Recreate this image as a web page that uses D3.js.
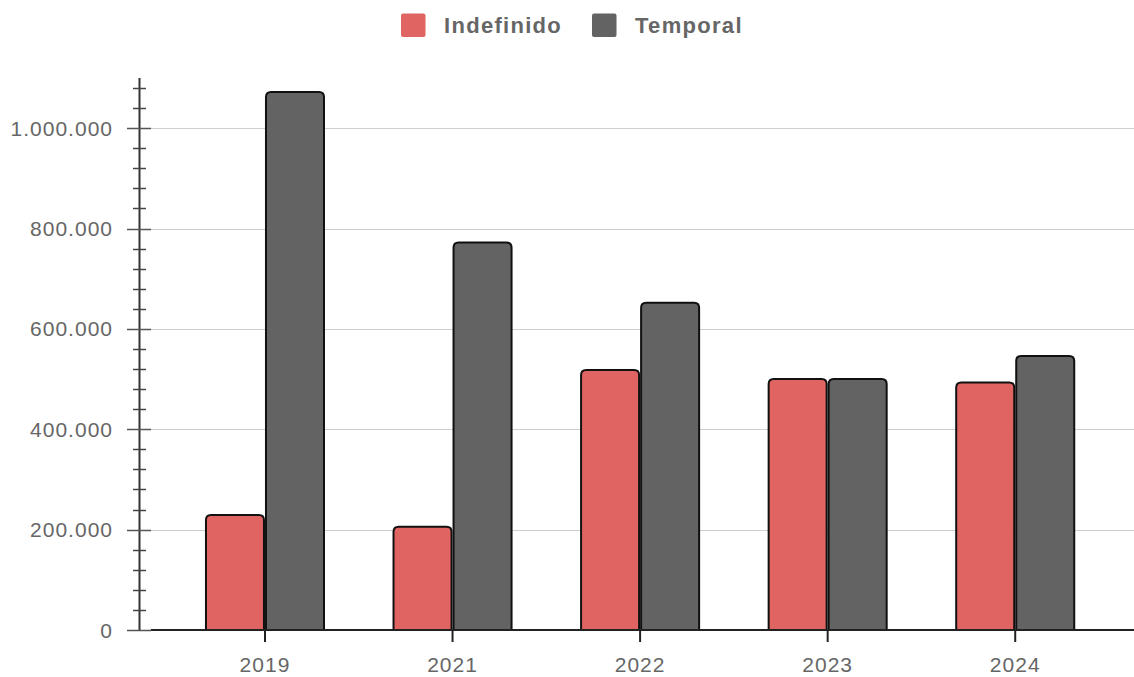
<!DOCTYPE html>
<html>
<head>
<meta charset="utf-8">
<script src="https://cdn.jsdelivr.net/npm/d3@7"></script>
<style>
  html, body { margin: 0; padding: 0; background: #fff; }
  svg { display: block; }
  text { font-family: "Liberation Sans", Arial, sans-serif; }
</style>
</head>
<body>
<svg id="chart" width="1134" height="677"></svg>
<script>
const categories = ["2019", "2021", "2022", "2023", "2024"];
const seriesNames = ["Indefinido", "Temporal"];
const indefinido = [229000, 206000, 518000, 500000, 493000];
const temporal = [1072000, 772000, 652000, 500000, 546000];
const seriesColors = ["#e06462", "#636363"];
const majorTicks = [0, 200000, 400000, 600000, 800000, 1000000];

const W = 1134, H = 677;
const svg = d3.select("#chart");

const loc = d3.formatLocale({decimal: ",", thousands: ".", grouping: [3], currency: ["", "€"]});
const fmt = loc.format(",");

const y = d3.scaleLinear().domain([0, 1100000]).range([630, 78]);
const x = d3.scaleBand().domain(categories).range([171.2, 1109]).paddingInner(0.36).paddingOuter(0.18);
const xs = d3.scaleBand().domain(seriesNames).range([0, x.bandwidth()]).padding(0);

const textColor = "#666";

// gridlines
svg.append("g").selectAll("line").data(majorTicks.filter(d => d > 0)).join("line")
  .attr("x1", 151).attr("x2", W)
  .attr("y1", d => Math.round(y(d)) + 0.5).attr("y2", d => Math.round(y(d)) + 0.5)
  .attr("stroke", "#cfcfcf").attr("stroke-width", 1);

// y axis line
svg.append("line").attr("x1", 139.5).attr("x2", 139.5).attr("y1", y(1100000)).attr("y2", 630)
  .attr("stroke", "#333").attr("stroke-width", 2);

// minor ticks
const minor = d3.range(0, 1100001, 40000).filter(d => d % 200000 !== 0);
svg.append("g").selectAll("line").data(minor).join("line")
  .attr("x1", 133).attr("x2", 146)
  .attr("y1", d => Math.round(y(d)) + 0.5).attr("y2", d => Math.round(y(d)) + 0.5)
  .attr("stroke", "#444").attr("stroke-width", 1.5);

// major ticks
svg.append("g").selectAll("line").data(majorTicks).join("line")
  .attr("x1", 127).attr("x2", 151)
  .attr("y1", d => Math.round(y(d)) + 0.5).attr("y2", d => Math.round(y(d)) + 0.5)
  .attr("stroke", "#555").attr("stroke-width", 1.5);

// y labels
svg.append("g").selectAll("text").data(majorTicks).join("text")
  .attr("x", 113).attr("y", d => y(d) + 7.5)
  .attr("text-anchor", "end")
  .attr("font-size", 21).attr("letter-spacing", 1)
  .attr("fill", textColor)
  .text(d => fmt(d));

// bars
function topRounded(x0, y0, w, h, r) {
  r = Math.min(r, h, w / 2);
  return `M${x0},${y0 + h}V${y0 + r}Q${x0},${y0} ${x0 + r},${y0}H${x0 + w - r}Q${x0 + w},${y0} ${x0 + w},${y0 + r}V${y0 + h}Z`;
}
const seriesData = [indefinido, temporal];
seriesData.forEach((vals, si) => {
  svg.append("g").selectAll("path").data(vals).join("path")
    .attr("d", (v, i) => {
      const bx = x(categories[i]) + xs(seriesNames[si]) + 1;
      const bw = xs.bandwidth() - 2;
      const top = y(v);
      return topRounded(bx, top, bw, 630 - top, 5);
    })
    .attr("fill", seriesColors[si])
    .attr("stroke", "#111").attr("stroke-width", 2);
});

// x axis line
svg.append("line").attr("x1", 151).attr("x2", W).attr("y1", 630).attr("y2", 630)
  .attr("stroke", "#222").attr("stroke-width", 2);

// x ticks
svg.append("g").selectAll("line").data(categories).join("line")
  .attr("x1", d => x(d) + x.bandwidth() / 2).attr("x2", d => x(d) + x.bandwidth() / 2)
  .attr("y1", 630).attr("y2", 642)
  .attr("stroke", "#222").attr("stroke-width", 2);

// x labels
svg.append("g").selectAll("text").data(categories).join("text")
  .attr("x", d => x(d) + x.bandwidth() / 2).attr("y", 672)
  .attr("text-anchor", "middle")
  .attr("font-size", 21).attr("letter-spacing", 1)
  .attr("fill", textColor)
  .text(d => d);

// legend
const legendX = [401, 592];
const legend = svg.append("g");
seriesNames.forEach((name, i) => {
  legend.append("rect").attr("x", legendX[i]).attr("y", 13.5).attr("width", 24.5).attr("height", 23.5)
    .attr("rx", 2).attr("fill", seriesColors[i]);
  legend.append("text").attr("x", legendX[i] + 43).attr("y", 33)
    .attr("font-size", 22).attr("font-weight", "bold").attr("letter-spacing", 1.3)
    .attr("fill", textColor).text(name);
});
</script>
</body>
</html>
